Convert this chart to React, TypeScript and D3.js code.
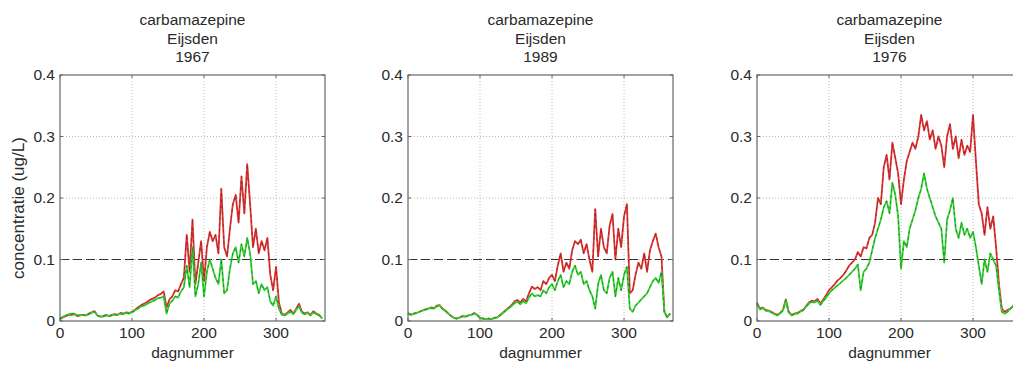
import React from "react";
import * as d3 from "d3";

// day numbers (every 4th day)
const DAYS: number[] = d3.range(0, 365, 4);

const TITLE_1 = "carbamazepine";
const TITLE_2 = "Eijsden";
const YEARS = ["1967", "1989", "1976"];

const X_TICKS = [0, 100, 200, 300];
const Y_TICKS = [0, 0.1, 0.2, 0.3, 0.4];
const Y_TICK_LABELS = ["0", "0.1", "0.2", "0.3", "0.4"];
const NORM = 0.1;

const RED_1967 = [
  0.003, 0.006, 0.008, 0.010, 0.010, 0.011, 0.008, 0.009, 0.010, 0.009,
  0.012, 0.014, 0.016, 0.009, 0.007, 0.008, 0.010, 0.008, 0.010, 0.011,
  0.010, 0.013, 0.012, 0.014, 0.013, 0.015, 0.018, 0.022, 0.025, 0.028,
  0.030, 0.034, 0.036, 0.038, 0.042, 0.044, 0.048, 0.022, 0.035, 0.040,
  0.050, 0.048, 0.060, 0.070, 0.140, 0.080, 0.165, 0.060, 0.095, 0.130,
  0.065, 0.120, 0.145, 0.130, 0.140, 0.110, 0.215, 0.120, 0.105, 0.150,
  0.190, 0.205, 0.160, 0.235, 0.175, 0.255, 0.190, 0.120, 0.150, 0.110,
  0.130, 0.115, 0.135, 0.075, 0.050, 0.088, 0.030, 0.012, 0.010, 0.014,
  0.018, 0.012, 0.020, 0.028, 0.015, 0.012, 0.014, 0.010, 0.016, 0.012,
  0.010, 0.004,
];
const GREEN_1967 = [
  0.004, 0.007, 0.009, 0.011, 0.012, 0.012, 0.009, 0.010, 0.010, 0.009,
  0.011, 0.013, 0.015, 0.009, 0.007, 0.007, 0.009, 0.008, 0.009, 0.010,
  0.010, 0.012, 0.011, 0.013, 0.012, 0.014, 0.017, 0.020, 0.023, 0.025,
  0.027, 0.030, 0.032, 0.034, 0.037, 0.038, 0.040, 0.012, 0.028, 0.033,
  0.040, 0.038, 0.048, 0.055, 0.090, 0.055, 0.120, 0.040, 0.060, 0.095,
  0.040, 0.080, 0.100, 0.085, 0.070, 0.060, 0.100, 0.045, 0.050, 0.085,
  0.110, 0.120, 0.095, 0.125, 0.105, 0.135, 0.110, 0.060, 0.065, 0.045,
  0.060, 0.050, 0.055, 0.032, 0.025, 0.040, 0.020, 0.010, 0.009, 0.012,
  0.015, 0.011, 0.018, 0.024, 0.013, 0.011, 0.013, 0.009, 0.014, 0.011,
  0.009, 0.004,
];
const RED_1989 = [
  0.013, 0.010, 0.012, 0.013, 0.015, 0.017, 0.019, 0.020, 0.022, 0.021,
  0.025, 0.026, 0.020, 0.017, 0.012, 0.008, 0.005, 0.004, 0.006, 0.008,
  0.007, 0.009, 0.010, 0.013, 0.010, 0.005, 0.004, 0.003, 0.004, 0.003,
  0.005, 0.006, 0.010, 0.014, 0.018, 0.022, 0.026, 0.032, 0.034, 0.030,
  0.036, 0.032, 0.045, 0.056, 0.052, 0.055, 0.050, 0.065, 0.060, 0.070,
  0.075, 0.065, 0.090, 0.110, 0.080, 0.095, 0.085, 0.115, 0.130, 0.125,
  0.132, 0.110, 0.125, 0.100, 0.080, 0.182, 0.105, 0.150, 0.120, 0.110,
  0.155, 0.174, 0.100, 0.150, 0.120, 0.170, 0.190, 0.045, 0.050, 0.075,
  0.095, 0.085, 0.110, 0.080, 0.115, 0.130, 0.142, 0.120, 0.105, 0.015,
  0.006, 0.012,
];
const GREEN_1989 = [
  0.012, 0.010, 0.012, 0.013, 0.015, 0.017, 0.018, 0.020, 0.021, 0.020,
  0.024, 0.025, 0.019, 0.016, 0.012, 0.008, 0.005, 0.004, 0.006, 0.008,
  0.007, 0.009, 0.010, 0.012, 0.010, 0.005, 0.004, 0.003, 0.004, 0.003,
  0.005, 0.006, 0.009, 0.013, 0.017, 0.021, 0.024, 0.029, 0.031, 0.027,
  0.032, 0.029, 0.038, 0.045, 0.040, 0.042, 0.040, 0.050, 0.045, 0.055,
  0.060, 0.050, 0.065, 0.075, 0.055, 0.065, 0.060, 0.080, 0.090, 0.075,
  0.080, 0.060, 0.065, 0.050, 0.040, 0.020, 0.060, 0.075, 0.050, 0.045,
  0.070, 0.080, 0.040, 0.070, 0.050, 0.075, 0.088, 0.020, 0.015, 0.025,
  0.030, 0.035, 0.040, 0.045, 0.055, 0.065, 0.070, 0.062, 0.080, 0.015,
  0.006, 0.012,
];
const RED_1976 = [
  0.030, 0.020, 0.022, 0.018, 0.017, 0.015, 0.012, 0.010, 0.013, 0.018,
  0.035, 0.015, 0.010, 0.012, 0.013, 0.016, 0.018, 0.024, 0.030, 0.033,
  0.032, 0.036, 0.028, 0.035, 0.042, 0.050, 0.055, 0.060, 0.066, 0.070,
  0.075, 0.082, 0.090, 0.095, 0.100, 0.112, 0.105, 0.120, 0.118, 0.135,
  0.140, 0.160, 0.200, 0.190, 0.250, 0.270, 0.230, 0.290, 0.265, 0.240,
  0.190, 0.230, 0.260, 0.275, 0.290, 0.280, 0.300, 0.335, 0.310, 0.325,
  0.295, 0.310, 0.280, 0.300, 0.285, 0.250, 0.300, 0.320, 0.280, 0.300,
  0.265, 0.295, 0.270, 0.285, 0.275, 0.335, 0.260, 0.190, 0.175, 0.140,
  0.185, 0.150, 0.170, 0.120, 0.060, 0.020, 0.015, 0.018, 0.020, 0.025,
  0.030, 0.035,
];
const GREEN_1976 = [
  0.028, 0.019, 0.021, 0.017, 0.016, 0.014, 0.011, 0.009, 0.012, 0.017,
  0.033, 0.014, 0.009, 0.011, 0.012, 0.015, 0.017, 0.023, 0.028, 0.031,
  0.030, 0.033, 0.026, 0.032, 0.038, 0.045, 0.050, 0.054, 0.058, 0.062,
  0.066, 0.070, 0.075, 0.080, 0.085, 0.092, 0.050, 0.080, 0.085, 0.095,
  0.115, 0.135, 0.150, 0.165, 0.185, 0.195, 0.175, 0.225, 0.205, 0.170,
  0.085, 0.130, 0.120, 0.150, 0.165, 0.180, 0.200, 0.215, 0.240, 0.215,
  0.200, 0.185, 0.170, 0.160, 0.150, 0.095, 0.165, 0.180, 0.200, 0.150,
  0.135, 0.160, 0.140, 0.150, 0.135, 0.145, 0.120, 0.090, 0.060, 0.100,
  0.080, 0.110, 0.100, 0.090, 0.050, 0.015, 0.012, 0.015, 0.020, 0.025,
  0.030, 0.035,
];

const PANELS = [
  { year: YEARS[0], red: RED_1967, green: GREEN_1967, left: 60, ylabel: true },
  { year: YEARS[1], red: RED_1989, green: GREEN_1989, left: 408, ylabel: false },
  { year: YEARS[2], red: RED_1976, green: GREEN_1976, left: 757, ylabel: false },
];

const W = 1013;
const H = 367;
const TOP = 75;
const BOTTOM = 321;
const PW = 265;
const FONT = "'Liberation Sans', Arial, Helvetica, sans-serif";
const TXT = "#2a2a2a";

function Panel({ p }: { p: (typeof PANELS)[number] }) {
  const x = d3.scaleLinear().domain([0, 368]).range([p.left, p.left + PW]);
  const y = d3.scaleLinear().domain([0, 0.4]).range([BOTTOM, TOP]);
  const line = d3
    .line<number>()
    .x((_, i) => x(DAYS[i]))
    .y((v) => y(v));
  const cx = p.left + PW / 2;
  const right = p.left + PW;
  return (
    <g>
      <text x={cx} y={25} textAnchor="middle" fontSize={15.5} fill={TXT}>{TITLE_1}</text>
      <text x={cx} y={43.5} textAnchor="middle" fontSize={15.5} fill={TXT}>{TITLE_2}</text>
      <text x={cx} y={62} textAnchor="middle" fontSize={15.5} fill={TXT}>{p.year}</text>
      {/* grid */}
      {X_TICKS.filter((t) => t > 0).map((t) => (
        <line key={"gx" + t} x1={x(t)} x2={x(t)} y1={TOP} y2={BOTTOM} stroke="#b8b8b8" strokeWidth={1} strokeDasharray="1,2" />
      ))}
      {Y_TICKS.filter((t) => t > 0 && t < 0.4).map((t) => (
        <line key={"gy" + t} x1={p.left} x2={right} y1={y(t)} y2={y(t)} stroke="#b8b8b8" strokeWidth={1} strokeDasharray="1,2" />
      ))}
      {/* norm line */}
      <line x1={p.left} x2={right} y1={y(NORM)} y2={y(NORM)} stroke="#333" strokeWidth={1.2} strokeDasharray="9,4" />
      {/* series */}
      <path d={line(p.red) || ""} fill="none" stroke="#e03535" strokeWidth={1.8} strokeLinejoin="round" />
      <path d={line(p.red) || ""} fill="none" stroke="#6e1212" strokeWidth={0.9} strokeDasharray="3,3" opacity={0.55} />
      <path d={line(p.green) || ""} fill="none" stroke="#33d633" strokeWidth={1.8} strokeLinejoin="round" />
      <path d={line(p.green) || ""} fill="none" stroke="#1a401a" strokeWidth={0.9} strokeDasharray="3,3" opacity={0.55} />
      {/* box */}
      <rect x={p.left} y={TOP} width={PW} height={BOTTOM - TOP} fill="none" stroke="#666" strokeWidth={1.2} />
      {/* ticks */}
      {X_TICKS.map((t) => (
        <g key={"tx" + t}>
          <line x1={x(t)} x2={x(t)} y1={BOTTOM} y2={BOTTOM - 3} stroke="#666" />
          <line x1={x(t)} x2={x(t)} y1={TOP} y2={TOP + 3} stroke="#666" />
          <text x={x(t)} y={338} textAnchor="middle" fontSize={15.5} fill={TXT}>{t}</text>
        </g>
      ))}
      {Y_TICKS.map((t, i) => (
        <g key={"ty" + t}>
          <line x1={p.left} x2={p.left + 3} y1={y(t)} y2={y(t)} stroke="#666" />
          <line x1={right} x2={right - 3} y1={y(t)} y2={y(t)} stroke="#666" />
          <text x={p.left - 5} y={y(t) + 5} textAnchor="end" fontSize={15.5} fill={TXT}>{Y_TICK_LABELS[i]}</text>
        </g>
      ))}
      <text x={cx} y={358} textAnchor="middle" fontSize={15.5} fill={TXT}>dagnummer</text>
      {p.ylabel && (
        <text transform={`translate(24,${(TOP + BOTTOM) / 2 + 10}) rotate(-90)`} textAnchor="middle" fontSize={17} fill={TXT}>
          concentratie (ug/L)
        </text>
      )}
    </g>
  );
}

export default function App() {
  return (
    <svg
      width={W}
      height={H}
      style={{ position: "absolute", left: 0, top: 0, background: "#fff", fontFamily: FONT }}
    >
      <rect width={W} height={H} fill="#fff" />
      {PANELS.map((p) => (
        <Panel key={p.year} p={p} />
      ))}
    </svg>
  );
}
